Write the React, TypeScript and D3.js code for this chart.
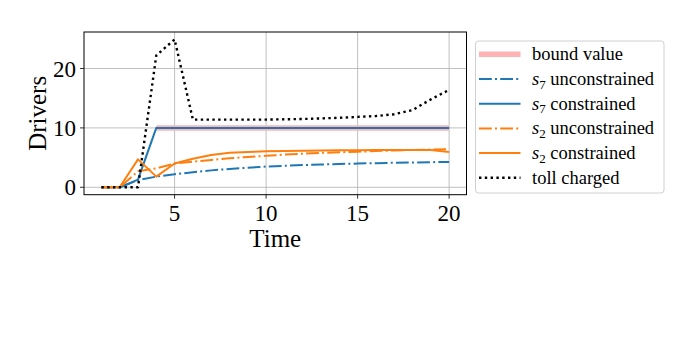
import React from "react";
import * as d3 from "d3";

const timeSteps = [1,2,3,4,5,6,7,8,9,10,11,12,13,14,15,16,17,18,19,20];
const boundTime = [4,5,6,7,8,9,10,11,12,13,14,15,16,17,18,19,20];
const boundValues = [10,10,10,10,10,10,10,10,10,10,10,10,10,10,10,10,10];
const s7Unconstrained = [0,0,1.2,1.8,2.2,2.55,2.85,3.1,3.3,3.5,3.62,3.74,3.84,3.93,4.0,4.07,4.13,4.18,4.23,4.28];
const s7Constrained = [0,0,1.3,10,10,10,10,10,10,10,10,10,10,10,10,10,10,10,10,10];
const s2Unconstrained = [0,0,2.7,3.2,4.0,4.3,4.6,4.9,5.1,5.3,5.5,5.65,5.8,5.9,6.0,6.1,6.2,6.3,6.35,6.4];
const s2Constrained = [0,0,4.7,1.8,4.0,4.8,5.45,5.8,5.95,6.05,6.1,6.15,6.2,6.22,6.25,6.27,6.3,6.3,6.3,5.95];
const tollCharged = [0,0,0,22.2,24.9,11.4,11.4,11.4,11.4,11.4,11.45,11.5,11.6,11.7,11.85,12.0,12.3,13.0,14.8,16.4];
const xTicks = [5,10,15,20];
const yTicks = [0,10,20];

const BLUE = "#1f77b4";
const ORANGE = "#ff7f0e";
const PINK = "#ffb3b3";
const FONT = "'Liberation Serif', 'DejaVu Serif', serif";

const W = 676, H = 358;
const L = 84, R = 466.5, T = 32, B = 194.7;

export default function App() {
  const x = d3.scaleLinear().domain([0.05, 20.95]).range([L, R]);
  const yMax = 24.9;
  const y = d3.scaleLinear().domain([-0.05 * yMax, yMax * 1.05]).range([B, T]);
  const line = d3.line<[number, number]>().x(d => x(d[0])).y(d => y(d[1]));
  const mk = (xs: number[], ys: number[]) => line(xs.map((t, i) => [t, ys[i]] as [number, number])) || "";

  const dashdot = "12.8,3.2,2,3.2";
  const dotted = "2.4,3.4";

  const series = [
    { label: "bound value", path: mk(boundTime, boundValues), color: PINK, width: 5.5, dash: undefined as string | undefined, sub: null as string | null, text: "bound value" },
    { label: "s7u", path: mk(timeSteps, s7Unconstrained), color: BLUE, width: 2, dash: dashdot, sub: "7", text: " unconstrained" },
    { label: "s7c", path: mk(timeSteps, s7Constrained), color: BLUE, width: 2, dash: undefined, sub: "7", text: " constrained" },
    { label: "s2u", path: mk(timeSteps, s2Unconstrained), color: ORANGE, width: 2, dash: dashdot, sub: "2", text: " unconstrained" },
    { label: "s2c", path: mk(timeSteps, s2Constrained), color: ORANGE, width: 2, dash: undefined, sub: "2", text: " constrained" },
    { label: "toll", path: mk(timeSteps, tollCharged), color: "#000", width: 2.4, dash: dotted, sub: null, text: "toll charged" },
  ];

  return (
    <svg width={W} height={H} style={{ position: "absolute", left: 0, top: 0, background: "#fff" }} fontFamily={FONT}>
      <rect x={0} y={0} width={W} height={H} fill="#fff" />
      {xTicks.map(t => (
        <line key={"gx" + t} x1={x(t)} x2={x(t)} y1={T} y2={B} stroke="#b0b0b0" strokeWidth={0.8} />
      ))}
      {yTicks.map(t => (
        <line key={"gy" + t} x1={L} x2={R} y1={y(t)} y2={y(t)} stroke="#b0b0b0" strokeWidth={0.8} />
      ))}
      <defs>
        <clipPath id="clip"><rect x={L} y={T} width={R - L} height={B - T} /></clipPath>
      </defs>
      <g clipPath="url(#clip)" fill="none" strokeLinejoin="round">
        {series.map(s => (
          <path key={s.label} d={s.path} stroke={s.color} strokeWidth={s.width} strokeDasharray={s.dash} strokeLinecap="butt" />
        ))}
      </g>
      <rect x={L} y={T} width={R - L} height={B - T} fill="none" stroke="#000" strokeWidth={1} />
      {xTicks.map(t => (
        <g key={"tx" + t}>
          <line x1={x(t)} x2={x(t)} y1={B} y2={B + 4} stroke="#000" strokeWidth={0.8} />
          <text x={x(t)} y={220.5} textAnchor="middle" fontSize={23}>{t}</text>
        </g>
      ))}
      {yTicks.map(t => (
        <g key={"ty" + t}>
          <line x1={L - 4} x2={L} y1={y(t)} y2={y(t)} stroke="#000" strokeWidth={0.8} />
          <text x={L - 8} y={y(t) + 8} textAnchor="end" fontSize={23}>{t}</text>
        </g>
      ))}
      <text x={(L + R) / 2} y={246.5} textAnchor="middle" fontSize={25}>Time</text>
      <text transform={`translate(46,${(T + B) / 2}) rotate(-90)`} textAnchor="middle" fontSize={25}>Drivers</text>
      <rect x={475.5} y={41} width={188.5} height={152} rx={3} ry={3} fill="#fff" stroke="#d0d0d0" strokeWidth={1} />
      {series.map((s, i) => {
        const cy = 54.3 + i * 24.7;
        return (
          <g key={"lg" + s.label}>
            <line x1={479} x2={520.5} y1={cy} y2={cy} stroke={s.color} strokeWidth={s.width} strokeDasharray={s.dash} />
            <text x={532} y={cy + 6} fontSize={18.5}>
              {s.sub ? (
                <>
                  <tspan fontStyle="italic">s</tspan>
                  <tspan fontSize={13} dy={3.5}>{s.sub}</tspan>
                  <tspan dy={-3.5}>{s.text}</tspan>
                </>
              ) : s.text}
            </text>
          </g>
        );
      })}
    </svg>
  );
}
